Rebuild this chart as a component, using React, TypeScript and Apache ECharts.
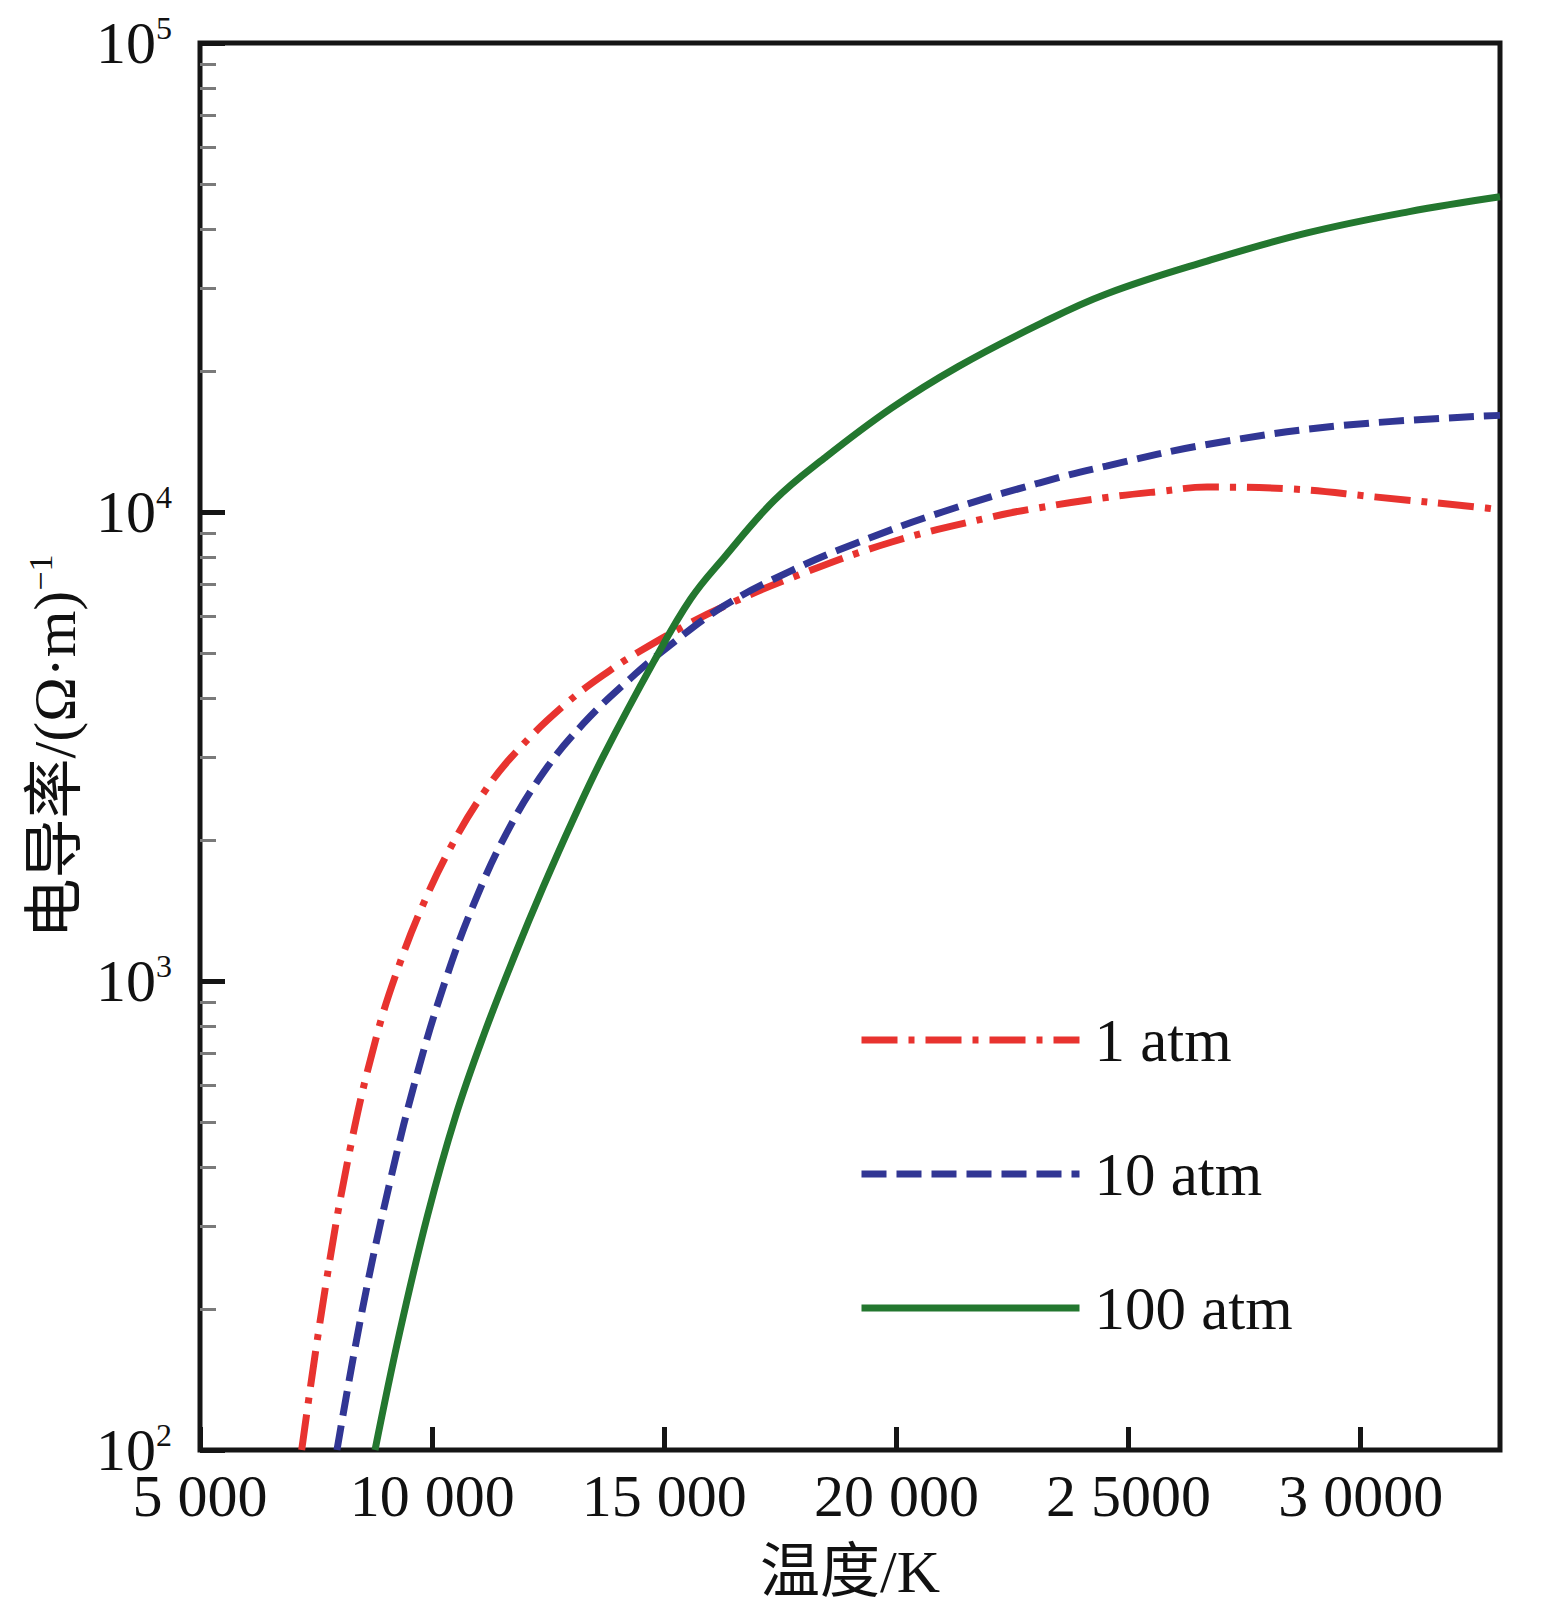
import React, { useEffect, useRef } from "react";
import * as echarts from "echarts";

// X axis ticks (temperature, K)
const xTickValues = [5000, 10000, 15000, 20000, 25000, 30000];
const xTickLabels = ["5 000", "10 000", "15 000", "20 000", "2 5000", "3 0000"];

// Y axis ticks (log scale)
const yTickValues = [100, 1000, 10000, 100000];
const yTickExponents = ["2", "3", "4", "5"];
const yMinorTicks = [
  200, 300, 400, 500, 600, 700, 800, 900,
  2000, 3000, 4000, 5000, 6000, 7000, 8000, 9000,
  20000, 30000, 40000, 50000, 60000, 70000, 80000, 90000,
];

const seriesNames = ["1 atm", "10 atm", "100 atm"];

// 1 atm
const temp1 = [7190, 7700, 8250, 8810, 9290, 9800, 10400, 11100, 11800, 12890, 13840, 14490, 15400, 16290, 17740, 19900, 22070, 23070, 24520, 25700, 26690, 28500, 30300, 32690, 33000];
const cond1 = [100, 222, 447, 767, 1081, 1452, 1928, 2512, 3074, 3908, 4603, 5058, 5690, 6295, 7244, 8630, 9772, 10210, 10740, 11070, 11300, 11200, 10770, 10200, 10100];

// 10 atm
const temp10 = [7950, 8500, 9100, 9700, 10300, 10900, 11600, 12400, 13250, 14270, 15050, 16290, 17740, 19170, 20990, 23070, 24520, 26690, 29570, 33000];
const cond10 = [100, 200, 376, 646, 1012, 1462, 2065, 2786, 3532, 4416, 5129, 6310, 7499, 8610, 10000, 11530, 12530, 13930, 15280, 16070];

// 100 atm
const temp100 = [8770, 9300, 9900, 10500, 11130, 11800, 12390, 13040, 13690, 14770, 15570, 16290, 17370, 18450, 19900, 21330, 23070, 24520, 26690, 28850, 31020, 33000];
const cond100 = [100, 178, 316, 513, 776, 1148, 1585, 2213, 3020, 4790, 6530, 8000, 10590, 13030, 16670, 20420, 25120, 29170, 34280, 39360, 43650, 47000];

const serif = "'Liberation Serif', 'Times New Roman', 'Noto Sans CJK SC', serif";

function pairs(xs: number[], ys: number[]) {
  return xs.map((x, i) => [x, ys[i]]);
}

export default function App() {
  const ref = useRef<HTMLDivElement>(null);

  useEffect(() => {
    document.body.style.margin = "0";
    if (!ref.current) return;
    const chart = echarts.init(ref.current, undefined, { renderer: "svg" });

    const lineBase = (name: string, data: number[][], color: string, dash: any, z: number, smooth: number) => ({
      name,
      type: "line",
      data,
      smooth,
      symbol: "none",
      showSymbol: false,
      clip: true,
      z,
      lineStyle: { color, width: 7, type: dash, cap: "butt" },
      itemStyle: { color },
    });

    chart.setOption({
      animation: false,
      backgroundColor: "#ffffff",
      grid: {
        left: 200,
        right: 45,
        top: 43,
        bottom: 171,
        show: true,
        borderColor: "#151515",
        borderWidth: 5,
        backgroundColor: "transparent",
      },
      legend: {
        orient: "vertical",
        left: 853,
        top: 1000,
        itemWidth: 218,
        itemHeight: 14,
        itemGap: 64,
        selectedMode: false,
        data: seriesNames,
        lineStyle: { width: 7 },
        itemStyle: { opacity: 0 },
        textStyle: {
          fontFamily: serif,
          fontSize: 61,
          lineHeight: 70,
          color: "#111",
          padding: [0, 0, 0, 10],
        },
      },
      xAxis: {
        type: "value",
        min: 5000,
        max: 33000,
        interval: 5000,
        name: "温度/K",
        nameLocation: "middle",
        nameGap: 92,
        nameTextStyle: { fontFamily: serif, fontSize: 60, color: "#111" },
        axisLine: { show: false },
        axisTick: { show: true, inside: true, length: 23, lineStyle: { color: "#151515", width: 5 } },
        splitLine: { show: false },
        axisLabel: {
          margin: 16,
          fontFamily: serif,
          fontSize: 60,
          color: "#111",
          showMaxLabel: false,
          formatter: (v: number) => {
            const i = xTickValues.indexOf(v);
            return i >= 0 ? xTickLabels[i] : "";
          },
        },
      },
      yAxis: [
        {
          type: "log",
          logBase: 10,
          min: 100,
          max: 100000,
          name: "{n|电导率/(Ω·m)}{s|−1}",
          nameLocation: "middle",
          nameRotate: 90,
          nameGap: 91,
          nameTextStyle: {
            rich: {
              n: { fontFamily: serif, fontSize: 60, color: "#111", lineHeight: 64 },
              s: { fontFamily: serif, fontSize: 34, color: "#111", verticalAlign: "top", lineHeight: 64 },
            },
          },
          axisLine: { show: false },
          axisTick: { show: true, inside: true, length: 25, lineStyle: { color: "#151515", width: 5 } },
          minorTick: { show: false },
          splitLine: { show: false },
          axisLabel: {
            margin: 28,
            formatter: (v: number) => {
              const i = yTickValues.findIndex((t) => Math.abs(t - v) / t < 1e-6);
              return i >= 0 ? `{b|10}{s|${yTickExponents[i]}}` : "";
            },
            rich: {
              b: { fontFamily: serif, fontSize: 60, color: "#111", lineHeight: 62 },
              s: { fontFamily: serif, fontSize: 32, color: "#111", verticalAlign: "top", lineHeight: 62 },
            },
          },
        },
        {
          type: "log",
          logBase: 10,
          min: 100,
          max: 100000,
          position: "left",
          axisLine: { show: false },
          axisLabel: { show: false },
          splitLine: { show: false },
          axisTick: {
            show: true,
            inside: true,
            length: 16,
            lineStyle: { color: "#7a7a7a", width: 3 },
            customValues: yMinorTicks,
          },
        },
      ],
      series: [
        lineBase(seriesNames[0], pairs(temp1, cond1), "#e8332f", [36, 11, 6, 11], 3, 0.4),
        lineBase(seriesNames[1], pairs(temp10, cond10), "#313694", [25, 10], 4, 0.4),
        lineBase(seriesNames[2], pairs(temp100, cond100), "#23772f", "solid", 5, 0.4),
      ],
    });

    return () => chart.dispose();
  }, []);

  return <div ref={ref} style={{ width: 1545, height: 1621 }} />;
}
